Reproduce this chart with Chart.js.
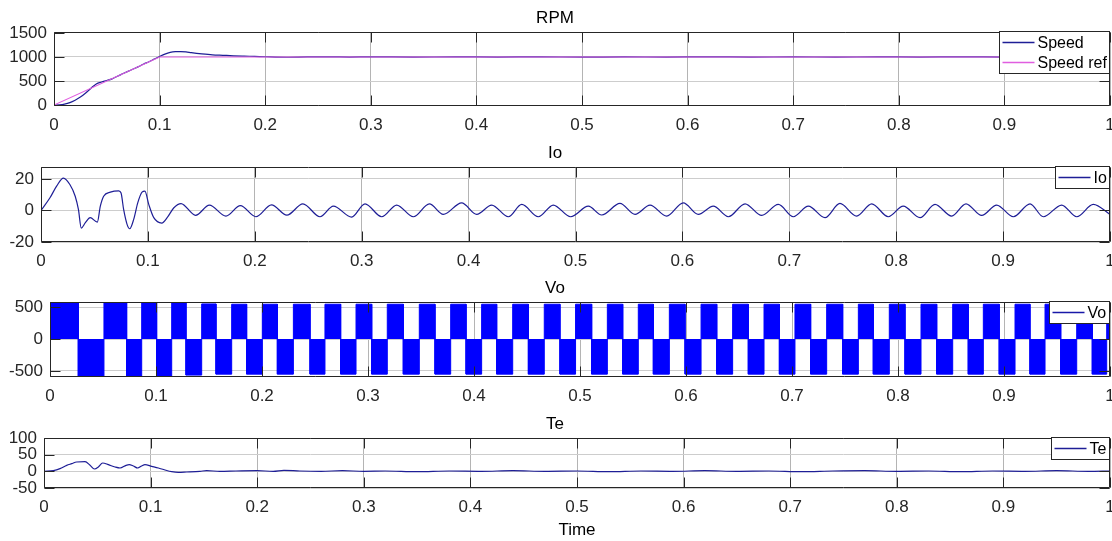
<!DOCTYPE html>
<html>
<head>
<meta charset="utf-8">
<script src="https://cdn.jsdelivr.net/npm/chart.js@4.4.1/dist/chart.umd.min.js"></script>
<style>
  html, body { margin: 0; padding: 0; background: #ffffff; }
  body { width: 1112px; height: 541px; position: relative; overflow: hidden; }
  canvas { position: absolute; left: 0; }
</style>
</head>
<body>
<canvas id="cRpm" width="1112" height="128" style="top:8px;width:1112px;height:128px"></canvas>
<canvas id="cIo"  width="1112" height="129" style="top:143px;width:1112px;height:129px"></canvas>
<canvas id="cVo"  width="1112" height="129" style="top:278px;width:1112px;height:129px"></canvas>
<canvas id="cTe"  width="1112" height="127" style="top:414px;width:1112px;height:127px"></canvas>
<script>
// ---- shared time axis ----
const timeTicks = [0, 0.1, 0.2, 0.3, 0.4, 0.5, 0.6, 0.7, 0.8, 0.9, 1];

// ---- RPM ----
const rpmTicks = [0, 500, 1000, 1500];
const speedT = [0, 0.005, 0.01, 0.015, 0.02, 0.025, 0.03, 0.035, 0.04, 0.045, 0.05, 0.055, 0.06, 0.065, 0.07,
  0.075, 0.08, 0.085, 0.09, 0.095, 0.1, 0.105, 0.11, 0.115, 0.12, 0.125, 0.13, 0.14, 0.15, 0.16, 0.17, 0.18,
  0.19, 0.2, 0.22, 0.24, 0.26, 0.28, 0.3, 0.34, 0.38, 0.42, 0.46, 0.5, 0.54, 0.58, 0.62, 0.66, 0.7, 0.74,
  0.78, 0.82, 0.86, 0.9, 0.94, 0.98, 1.0];
const speedV = [0, 5, 20, 50, 100, 165, 250, 350, 440, 480, 510, 545, 600, 650, 700,
  750, 800, 855, 900, 955, 1010, 1060, 1095, 1110, 1112, 1105, 1090, 1065, 1045, 1035, 1025, 1018,
  1012, 1005, 995, 1001, 1003, 998, 1004, 997, 1003, 998, 1004, 996, 1002, 998, 1003, 999, 1001, 998,
  1002, 999, 1004, 998, 1001, 1003, 1000];
const speedRefT = [0, 0.1, 1.0];
const speedRefV = [0, 1000, 1000];

// ---- Io ----
const ioTicks = [-20, 0, 20];
const ioT = [0, 0.0084, 0.0146, 0.021, 0.027, 0.032, 0.035, 0.0377, 0.0415, 0.046, 0.0527, 0.0555, 0.0586,
  0.0649, 0.0727, 0.0749, 0.0773, 0.0805, 0.083, 0.0867, 0.0905, 0.0945, 0.0972, 0.1008, 0.1055, 0.113,
  0.118, 0.1243, 0.131, 0.1446, 0.1575, 0.173, 0.1865, 0.201, 0.2156, 0.23, 0.245, 0.261, 0.2735, 0.2906,
  0.3031, 0.3187, 0.3327, 0.3483, 0.3633, 0.3763, 0.3935, 0.4076, 0.4216, 0.4372, 0.4497, 0.4652, 0.4792,
  0.4955, 0.512, 0.5245, 0.5416, 0.5557, 0.5697, 0.5853, 0.6008, 0.6149, 0.6289, 0.643, 0.6586, 0.6742,
  0.6897, 0.7038, 0.7178, 0.7334, 0.7474, 0.763, 0.7771, 0.7926, 0.8066, 0.8223, 0.8363, 0.8519, 0.8653,
  0.88, 0.894, 0.9096, 0.9252, 0.9376, 0.9548, 0.9689, 0.9844, 1.0];
const ioV = [0, 8, 15.4, 20.5, 16.4, 9, 0.6, -11.2, -7.8, -4.6, -7.4, 2.7, 9,
  11.6, 12.4, 11, 0.6, -8.8, -11.6, -5.7, 4.8, 11.6, 12.2, 3.8, -4.6, -8,
  -4.6, 1.7, 4.3, -3.1, 3.3, -3.6, 3, -4, 3.5, -3, 4.2, -4, 2.7, -4.2,
  4.2, -4, 3.4, -4, 4.2, -2.5, 4.8, -2.5, 3.4, -4, 3.8, -4, 3.4,
  -4, 2.7, -2.9, 4.4, -2.5, 3.4, -3.6, 4.8, -2.5, 2.7, -4, 4.2, -3.2,
  3.8, -4, 2.7, -4.6, 4.4, -3.6, 4.2, -4, 2.7, -4.6, 3.8, -3.6, 4.2,
  -3.2, 3.4, -4, 4.2, -4, 3.4, -4, 3.8, -2.5];

// ---- Vo (half-cycle boundaries and the PWM envelope level of each half-cycle) ----
const voTicks = [-500, 0, 500];
const voEdges = [0, 0.0267, 0.0509, 0.0723, 0.0865, 0.1006, 0.1148, 0.1283, 0.1431, 0.1566, 0.1714,
  0.1855, 0.2003, 0.2145, 0.2296, 0.2453, 0.2594, 0.2742, 0.2887, 0.3035, 0.3182, 0.3333, 0.3484, 0.3632,
  0.3780, 0.3925, 0.4072, 0.4214, 0.4365, 0.4513, 0.4663, 0.4811, 0.4958, 0.5110, 0.5258, 0.5403, 0.5550,
  0.5692, 0.5843, 0.5991, 0.6142, 0.6290, 0.6440, 0.6588, 0.6736, 0.6881, 0.7028, 0.7176, 0.7327, 0.7478,
  0.7626, 0.7767, 0.7918, 0.8066, 0.8217, 0.8365, 0.8516, 0.8663, 0.8805, 0.8955, 0.9104, 0.9245, 0.9387,
  0.9535, 0.9686, 0.9833, 0.9969, 1.0];
const voLevels = [575, -585, 570, -580, 580, -585, 575, -565, 550, -550, 545,
  -550, 545, -550, 545, -550, 545, -550, 545, -550, 545, -550, 545, -550,
  545, -550, 545, -550, 545, -550, 545, -550, 545, -550, 545, -550, 545,
  -550, 545, -550, 545, -550, 545, -550, 545, -550, 545, -550, 545, -550,
  545, -550, 545, -550, 545, -550, 545, -550, 545, -550, 545, -550, 545,
  -550, 545, -550, 545];

// ---- Te ----
const teTicks = [-50, 0, 50, 100];
const teT = [0, 0.0088, 0.015, 0.0213, 0.026, 0.0306, 0.0385, 0.0432, 0.0473, 0.051, 0.055, 0.0604, 0.0666,
  0.0713, 0.077, 0.08, 0.0838, 0.0879, 0.0916, 0.0947, 0.101, 0.1073, 0.1135, 0.1198, 0.126, 0.1338,
  0.1463, 0.1526, 0.165, 0.18, 0.2, 0.215, 0.225, 0.24, 0.26, 0.28, 0.3, 0.32, 0.35, 0.38, 0.41, 0.44,
  0.47, 0.5, 0.53, 0.56, 0.59, 0.62, 0.65, 0.68, 0.71, 0.74, 0.77, 0.8, 0.83, 0.86, 0.89, 0.92, 0.95,
  0.98, 1.0];
const teV = [0, 2, 8, 18, 23, 28, 29, 18, 7, 13, 25, 20, 13,
  10, 18, 20, 16, 10, 16, 20, 15, 10, 4, -1, -3, -2,
  0, 2, 0, 1, 2, 0, 3, 1, 0, 2, 0, 1, -1, 1, 0, 2,
  0, 1, -1, 1, 0, 2, 0, 1, -1, 1, 2, 0, 1, -1, 1, 0, 2,
  0, 1];

// ---- styling ----
const FONT = '"Liberation Sans", Arial, Helvetica, sans-serif';
const LINE_COLOR = '#1e1e96';
const TICK_COLOR = '#262626';

function pts(xs, ys) { return xs.map((x, i) => ({ x: x, y: ys[i] })); }

// each half-cycle becomes a filled block between its two boundaries
function blockPts(edges, levels) {
  const out = [];
  levels.forEach((lv, i) => {
    const t0 = edges[i], t1 = edges[i + 1];
    out.push({ x: t0, y: 0 }, { x: t0, y: lv }, { x: t1, y: lv }, { x: t1, y: 0 });
  });
  return out;
}

// axes box plus inward tick marks, drawn over the data
const framePlugin = {
  id: 'frame',
  afterDatasetsDraw(chart) {
    const { ctx, chartArea: a, scales: { x, y } } = chart;
    const L = Math.round(a.left) + 0.5, R = Math.round(a.right) - 0.5;
    const T = Math.round(a.top) + 0.5, B = Math.round(a.bottom) - 0.5;
    ctx.save();
    ctx.strokeStyle = TICK_COLOR;
    ctx.lineWidth = 1;
    ctx.beginPath();
    ctx.rect(L, T, R - L, B - T);
    x.ticks.forEach(t => {
      const px = Math.round(x.getPixelForValue(t.value)) + 0.5;
      ctx.moveTo(px, B); ctx.lineTo(px, B - 10);
      ctx.moveTo(px, T); ctx.lineTo(px, T + 10);
    });
    y.ticks.forEach(t => {
      const py = Math.round(y.getPixelForValue(t.value)) + 0.5;
      ctx.moveTo(L, py); ctx.lineTo(L + 10, py);
      ctx.moveTo(R, py); ctx.lineTo(R - 10, py);
    });
    ctx.stroke();
    ctx.restore();
  }
};

// boxed legend in the upper-right corner of the plot area
const boxLegendPlugin = {
  id: 'boxLegend',
  afterDraw(chart) {
    const { ctx, chartArea: a } = chart;
    const sets = chart.data.datasets;
    ctx.save();
    ctx.font = '16px ' + FONT;
    const tw = Math.max(...sets.map(d => ctx.measureText(d.label).width));
    const w = Math.round(3 + 32 + 3 + tw + 3);
    const h = sets.length * 20 + 2;
    const x0 = Math.round(a.right) - w - 0.5;
    const y0 = Math.round(a.top) - 0.5;
    ctx.fillStyle = '#ffffff';
    ctx.fillRect(x0, y0, w, h);
    ctx.strokeStyle = TICK_COLOR;
    ctx.lineWidth = 1;
    ctx.strokeRect(x0, y0, w, h);
    sets.forEach((d, i) => {
      const cy = y0 + 11 + i * 20;
      ctx.strokeStyle = d.legendColor || d.borderColor;
      ctx.lineWidth = 1.5;
      ctx.beginPath();
      ctx.moveTo(x0 + 3, cy); ctx.lineTo(x0 + 35, cy);
      ctx.stroke();
      ctx.fillStyle = '#000000';
      ctx.textBaseline = 'middle';
      ctx.textAlign = 'left';
      ctx.fillText(d.label, x0 + 38, cy + 1);
    });
    ctx.restore();
  }
};

function makeChart(id, title, datasets, yMin, yMax, yTicks, leftEdge, xAxisH, xTitle) {
  const xScale = {
    type: 'linear', min: 0, max: 1,
    afterBuildTicks: s => { s.ticks = timeTicks.map(v => ({ value: v })); },
    afterFit: s => { s.height = xAxisH; s.paddingLeft = 0; s.paddingRight = 0; },
    ticks: { autoSkip: false, maxRotation: 0, padding: 9, color: TICK_COLOR,
             font: { family: FONT, size: 17 }, callback: v => String(v) },
    grid: { color: '#b4b4b4', drawTicks: false },
    border: { display: false }
  };
  if (xTitle) {
    xScale.title = { display: true, text: xTitle, color: '#000000',
                     font: { family: FONT, size: 17, lineHeight: '20px' }, padding: { top: 0, bottom: 1 } };
  }
  return new Chart(document.getElementById(id), {
    type: 'line',
    data: { datasets: datasets },
    plugins: [framePlugin, boxLegendPlugin],
    options: {
      responsive: false, maintainAspectRatio: false, animation: false, devicePixelRatio: 1,
      layout: { padding: { left: 0, right: 2, top: 0, bottom: 0 } },
      elements: { point: { radius: 0 } },
      plugins: {
        legend: { display: false },
        tooltip: { enabled: false },
        title: { display: true, text: title, color: '#000000',
                 font: { family: FONT, size: 17, weight: 'normal', lineHeight: '20px' },
                 padding: { top: 0, bottom: 4 } }
      },
      scales: {
        x: xScale,
        y: {
          type: 'linear', min: yMin, max: yMax,
          afterBuildTicks: s => { s.ticks = yTicks.map(v => ({ value: v })); },
          afterFit: s => { s.width = leftEdge; s.paddingTop = 0; s.paddingBottom = 0; },
          ticks: { autoSkip: false, padding: 7, color: TICK_COLOR,
                   font: { family: FONT, size: 17 }, callback: v => String(v) },
          grid: { color: '#cdcdcd', drawTicks: false },
          border: { display: false }
        }
      }
    }
  });
}

makeChart('cRpm', 'RPM', [
  { label: 'Speed', data: pts(speedT, speedV), borderColor: LINE_COLOR, borderWidth: 1.2,
    cubicInterpolationMode: 'monotone', order: 2 },
  { label: 'Speed ref', data: pts(speedRefT, speedRefV), borderColor: '#e05ee0', borderWidth: 1.2, order: 1 }
], -20, 1520, rpmTicks, 54, 30);

makeChart('cIo', 'Io', [
  { label: 'Io', data: pts(ioT, ioV), borderColor: LINE_COLOR, borderWidth: 1.2,
    cubicInterpolationMode: 'monotone' }
], -20, 27.5, ioTicks, 41, 30);

makeChart('cVo', 'Vo', [
  { label: 'Vo', data: blockPts(voEdges, voLevels), tension: 0, borderColor: '#0000ff',
    backgroundColor: '#0000ff', borderWidth: 1, fill: 'origin', legendColor: '#1818a8' }
], -595, 580, voTicks, 50, 30);

makeChart('cTe', 'Te', [
  { label: 'Te', data: pts(teT, teV), borderColor: LINE_COLOR, borderWidth: 1.2,
    cubicInterpolationMode: 'monotone' }
], -50, 100, teTicks, 44, 53, 'Time');
</script>
</body>
</html>
